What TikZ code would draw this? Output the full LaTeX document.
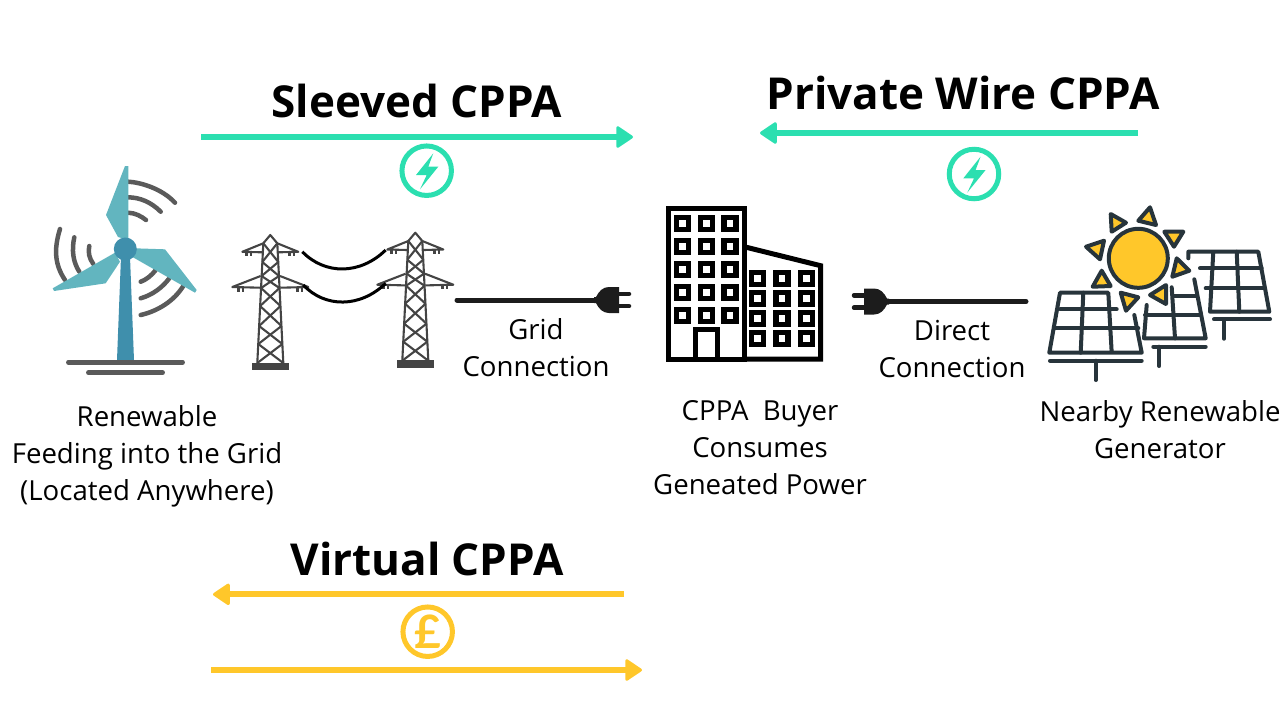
\documentclass[tikz,border=0pt]{standalone}
\usepackage{fontspec}
\setmainfont{Open Sans}
\newfontfamily\poundfont{Lato}
\usetikzlibrary{arrows.meta}
\newlength{\du}
\setlength{\du}{0.5pt}
\definecolor{cppagreen}{HTML}{2BDFB0}
\definecolor{cppayellow}{HTML}{FFC72A}
\definecolor{bladecolor}{HTML}{62B5BF}
\definecolor{towercolor}{HTML}{3F8FAC}
\definecolor{arccolor}{HTML}{5A5A5A}
\definecolor{pyloncolor}{HTML}{444444}
\definecolor{panelcolor}{HTML}{27343B}
\definecolor{plugcolor}{HTML}{1C1C1C}
\tikzset{
  bodytext/.style={align=center,inner sep=0pt,font=\fontsize{13.8}{18.5}\selectfont},
  titletext/.style={inner sep=0pt,font=\fontsize{22}{26}\selectfont\bfseries},
  greenarrow/.style={draw=cppagreen,line width=6\du,-{Triangle[length=9pt,width=11.7pt,line width=1.5pt,round]}},
  yellowarrow/.style={draw=cppayellow,line width=6\du,-{Triangle[length=9pt,width=11.7pt,line width=1.5pt,round]}},
  badge/.style={circle,draw=#1,line width=5\du,minimum size=49.5\du,inner sep=0pt},
  arcline/.style={draw=arccolor,line width=4.5\du,line cap=round},
  pylonline/.style={draw=pyloncolor,line width=2.1\du,line join=round},
  wireline/.style={draw=black,line width=3\du},
  cableline/.style={draw=plugcolor,line width=5\du},
  buildline/.style={draw=black,line width=5\du},
  windowframe/.style={draw=black,line width=5.2\du,fill=white},
  panelline/.style={draw=panelcolor,line width=4\du,line cap=round,line join=round},
  sunray/.style={draw=panelcolor,fill=cppayellow,line width=4\du,line join=round},
  boltmark/.pic={
    \fill[cppagreen] (6.6\du,-17.4\du)--(-10.7\du,4.3\du)--(0\du,4.3\du)--(-6.7\du,18.6\du)--(11.6\du,-4\du)--(1.6\du,-4\du)--cycle;
  },
  plugmark/.pic={
    \fill[plugcolor] (-2\du,-3\du)--(0\du,-3\du) .. controls (3\du,-9\du) and (7\du,-13\du) .. (13\du,-13\du)--(23\du,-13\du)--(23\du,13\du)--(13\du,13\du) .. controls (7\du,13\du) and (3\du,9\du) .. (0\du,3\du)--(-2\du,3\du)--cycle;
    \draw[plugcolor,line width=4.5\du,line cap=round] (23\du,-6.2\du)--(33\du,-6.2\du);
    \draw[plugcolor,line width=4.5\du,line cap=round] (23\du,6.2\du)--(33\du,6.2\du);
  },
  pylonmark/.pic={
    \draw[pylonline] (-7\du,8.3\du)--(0\du,0\du)--(7\du,8.3\du);
    \draw[pylonline] (-7\du,8.3\du)--(-13\du,128\du);
    \draw[pylonline] (7\du,8.3\du)--(13\du,128\du);
    % lattice
    \foreach \ya/\wa/\yb/\wb in {8.3/7/27/8,27/8/41/8.7,41/8.7/53/9.2,53/9.2/71/10.2,71/10.2/91/11.2,91/11.2/109/12,109/12/128/13}{
      \draw[pylonline] (-\wa\du,\ya\du)--(\wb\du,\yb\du);
      \draw[pylonline] (\wa\du,\ya\du)--(-\wb\du,\yb\du);
    }
    % arms
    \foreach \side in {-1,1}{
      \draw[pylonline] (\side*7\du,8.3\du)--(\side*28\du,16.8\du)--(\side*8\du,17.3\du);
      \draw[pylonline] (\side*9.7\du,41\du)--(\side*38\du,52\du)--(\side*10\du,52.7\du);
      \fill[pyloncolor] (\side*25\du,17.5\du) rectangle (\side*22.5\du,21\du);
      \fill[pyloncolor] (\side*20.5\du,17.5\du) rectangle (\side*18\du,21\du);
      \fill[pyloncolor] (\side*33\du,53\du) rectangle (\side*30.5\du,56.5\du);
      \fill[pyloncolor] (\side*28.5\du,53\du) rectangle (\side*26\du,56.5\du);
    }
    \fill[pyloncolor] (-18.8\du,127.7\du) rectangle (18.8\du,135\du);
  },
}
\begin{document}
\begin{tikzpicture}
\pgftransformxscale{1.000000}
\pgftransformyscale{-1.000000}
\useasboundingbox (0\du,0\du) rectangle (1280\du,720\du);
% sleeved
\node[titletext] (sleevedtitle) at (417\du,101\du){Sleeved CPPA};
\coordinate (sleevedstart) at (201\du,137\du);
\coordinate (sleevedend) at (633\du,137\du);
\draw[greenarrow] (sleevedstart)--(sleevedend);
\node[badge=cppagreen] (sleevedbadge) at (426.7\du,170.7\du){};
\pic[yscale=-1] at (sleevedbadge.center) {boltmark};
% private wire
\node[titletext] (privatetitle) at (963\du,93\du){Private Wire CPPA};
\coordinate (privatestart) at (1138\du,133\du);
\coordinate (privateend) at (760\du,133\du);
\draw[greenarrow] (privatestart)--(privateend);
\node[badge=cppagreen] (privatebadge) at (974\du,174\du){};
\pic[yscale=-1] at (privatebadge.center) {boltmark};
% virtual
\node[titletext] (virtualtitle) at (427\du,559\du){Virtual CPPA};
\coordinate (virtualbackstart) at (624\du,594.3\du);
\coordinate (virtualbackend) at (213\du,594.3\du);
\draw[yellowarrow] (virtualbackstart)--(virtualbackend);
\coordinate (virtualstart) at (211\du,670\du);
\coordinate (virtualend) at (642\du,670\du);
\draw[yellowarrow] (virtualstart)--(virtualend);
\node[badge=cppayellow,text=cppayellow,font=\fontsize{23}{23}\selectfont\poundfont\bfseries] (virtualbadge) at (427.7\du,631.7\du){£};
% turbine
\draw[arcline] (128.3\du,181.7\du) .. controls (140\du,182.3\du) and (161.7\du,188.3\du) .. (175\du,202.7\du);
\draw[arcline] (128.3\du,197.3\du) .. controls (140\du,197.5\du) and (151\du,202\du) .. (160.7\du,211.7\du);
\draw[arcline] (128.3\du,212.7\du) .. controls (135\du,213\du) and (141\du,216\du) .. (146\du,220\du);
\draw[arcline] (60\du,229\du) .. controls (53.5\du,250\du) and (55\du,265\du) .. (65\du,280\du);
\draw[arcline] (74.3\du,237.3\du) .. controls (71.5\du,250\du) and (73\du,262\du) .. (79.3\du,271.7\du);
\draw[arcline] (89.3\du,246\du) .. controls (88\du,252\du) and (89\du,258\du) .. (93.3\du,264\du);
\draw[arcline] (140.7\du,315\du) .. controls (158\du,311\du) and (174\du,301\du) .. (183.3\du,286\du);
\draw[arcline] (140.7\du,298.3\du) .. controls (152\du,295\du) and (162\du,288\du) .. (169.3\du,278.3\du);
\draw[arcline] (140.7\du,281.7\du) .. controls (146\du,280\du) and (152\du,275\du) .. (155.7\du,270\du);
\fill[bladecolor] (125\du,166\du)--(128.3\du,166\du)--(128.3\du,240\du)--(118\du,237\du)--(106\du,215\du)--cycle;
\fill[bladecolor] (135\du,248.3\du)--(165\du,249.3\du)--(196.7\du,290\du)--(195\du,292.7\du)--(133\du,257.3\du)--cycle;
\fill[bladecolor] (115\du,252.7\du)--(52.7\du,288.3\du)--(54\du,291\du)--(105.7\du,283.3\du)--(120\du,261.7\du)--cycle;
\fill[towercolor] (121\du,256.7\du)--(130\du,256.7\du)--(134\du,360\du)--(117\du,360\du)--cycle;
\fill[towercolor] (125.3\du,249\du) circle (11.5\du);
\draw[arcline] (68.3\du,362.3\du)--(182.7\du,362.3\du);
\draw[arcline] (88.3\du,372.7\du)--(162.7\du,372.7\du);
\node[bodytext] (windlabel) at (147\du,456\du){Renewable\\Feeding into the Grid\\(Located Anywhere)};
% pylons
\pic[yscale=-1] at (270.3\du,235\du) {pylonmark};
\pic[yscale=-1] at (415.3\du,232.7\du) {pylonmark};
\draw[wireline] (302.3\du,251.7\du) .. controls (325\du,275\du) and (360\du,275\du) .. (385.7\du,250\du);
\draw[wireline] (303.3\du,285\du) .. controls (325\du,308\du) and (360\du,308\du) .. (385.7\du,283.3\du);
% grid connection
\coordinate (gridcablestart) at (457\du,300\du);
\coordinate (gridcableend) at (596\du,300\du);
\draw[cableline,line cap=round] (gridcablestart)--(gridcableend);
\pic at (gridcableend) {plugmark};
\node[bodytext] (gridlabel) at (536\du,348\du){Grid\\Connection};
% building
\draw[buildline] (668.7\du,208.7\du) rectangle (744\du,359\du);
\draw[buildline,line join=miter] (744\du,246.7\du)--(820.7\du,265.7\du)--(820.7\du,359\du)--(744\du,359\du);
\draw[buildline] (695\du,359\du)--(695\du,329.7\du)--(717.7\du,329.7\du)--(717.7\du,359\du);
\foreach \x in {682.7,706.3,730}{
  \foreach \y in {223.3,246.7,269.7,292.7,315.7}{
    \draw[windowframe] (\x\du-6\du,\y\du-6\du) rectangle (\x\du+6\du,\y\du+6\du);
  }
}
\foreach \x in {757.7,782,806.3}{
  \foreach \y in {278.3,298.3,318.3,338.3}{
    \draw[windowframe] (\x\du-6\du,\y\du-6\du) rectangle (\x\du+6\du,\y\du+6\du);
  }
}
\node[bodytext] (buyerlabel) at (760\du,448\du){CPPA\ \ Buyer\\Consumes\\Geneated Power};
% direct connection
\coordinate (directcablestart) at (1026\du,301.5\du);
\coordinate (directcableend) at (887\du,301.5\du);
\draw[cableline,line cap=round] (directcablestart)--(directcableend);
\pic[xscale=-1] at (directcableend) {plugmark};
\node[bodytext] (directlabel) at (952\du,348.5\du){Direct\\Connection};
% solar panels
\draw[panelline] (1134.3\du,315\du)--(1141.7\du,352.7\du)--(1049.3\du,352.7\du)--(1060\du,292.7\du)--(1108.3\du,292.7\du)--(1111.7\du,352.7\du);
\draw[panelline] (1060\du,309.3\du)--(1116.7\du,309.3\du);
\draw[panelline] (1055\du,328.3\du)--(1138.3\du,328.3\du);
\draw[panelline] (1083.3\du,292.7\du)--(1080.7\du,352.7\du);
\draw[panelline] (1050\du,360.7\du)--(1141.7\du,360.7\du);
\draw[panelline] (1095.7\du,360.7\du)--(1095.7\du,380\du);
\draw[panelline] (1146.7\du,305\du)--(1144\du,338.3\du)--(1205.7\du,338.3\du)--(1194.3\du,279.3\du);
\draw[panelline] (1173.3\du,295.7\du)--(1196.7\du,295.7\du);
\draw[panelline] (1145\du,315\du)--(1200\du,315\du);
\draw[panelline] (1171.7\du,287.3\du)--(1175\du,338.3\du);
\draw[panelline] (1153.3\du,346.7\du)--(1205.7\du,346.7\du);
\draw[panelline] (1159.3\du,346.7\du)--(1159.3\du,366\du);
\draw[panelline] (1188.3\du,258.3\du)--(1188.3\du,251.7\du)--(1258.3\du,251.7\du)--(1269.3\du,311.7\du)--(1210\du,311.7\du)--(1213.3\du,251.7\du);
\draw[panelline] (1200\du,268.3\du)--(1261.7\du,268.3\du);
\draw[panelline] (1205.7\du,288.3\du)--(1264\du,288.3\du);
\draw[panelline] (1236.7\du,251.7\du)--(1239.3\du,311.7\du);
\draw[panelline] (1214\du,319.3\du)--(1270\du,319.3\du);
\draw[panelline] (1224\du,319.3\du)--(1224\du,338.7\du);
% sun
\draw[sunray] (1138.3\du,258.3\du) circle (29.5\du);
\draw[sunray] (1110.7\du,214\du)--(1126\du,222.7\du)--(1111.7\du,231.7\du)--cycle;
\draw[sunray] (1150\du,207.3\du)--(1156\du,225\du)--(1138.3\du,220.7\du)--cycle;
\draw[sunray] (1164.3\du,231.7\du)--(1183.3\du,231.7\du)--(1174\du,246.7\du)--cycle;
\draw[sunray] (1176.7\du,258.3\du)--(1189.3\du,270.7\du)--(1172.3\du,276.7\du)--cycle;
\draw[sunray] (1166\du,285\du)--(1166\du,304\du)--(1150\du,295\du)--cycle;
\draw[sunray] (1120.7\du,292.7\du)--(1138.3\du,297.3\du)--(1126\du,310.7\du)--cycle;
\draw[sunray] (1101.7\du,270.7\du)--(1110.7\du,286\du)--(1092.7\du,286.7\du)--cycle;
\draw[sunray] (1104\du,240.7\du)--(1100\du,259.3\du)--(1086\du,246.7\du)--cycle;
\node[bodytext] (solarlabel) at (1160\du,429.5\du){Nearby Renewable\\Generator};
\end{tikzpicture}
\end{document}
